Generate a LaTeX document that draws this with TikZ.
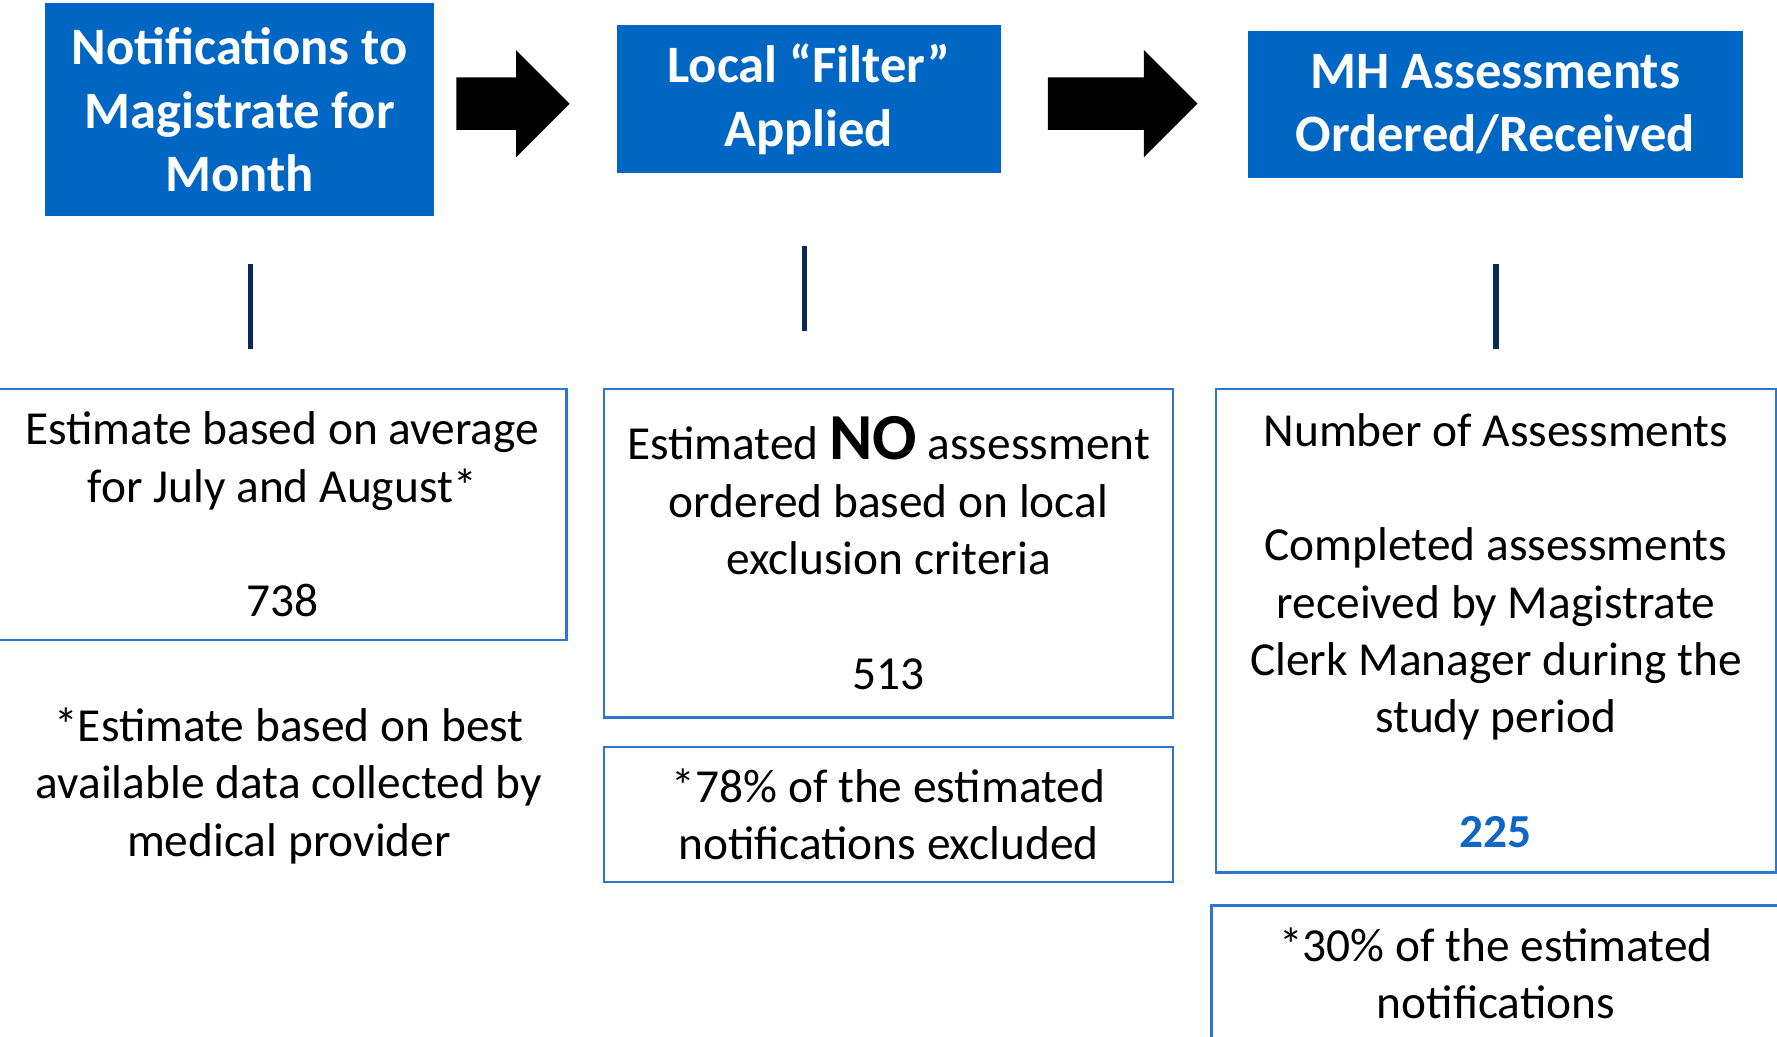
\documentclass[tikz,border=0pt]{standalone}
\usepackage{fontspec}
\setmainfont{Carlito}
\usetikzlibrary{positioning,shapes.arrows}
\definecolor{headblue}{RGB}{0,102,196}
\definecolor{edgeblue}{RGB}{47,117,205}
\definecolor{stemnavy}{RGB}{8,42,84}
\definecolor{numblue}{RGB}{15,102,196}

\begin{document}
\begin{tikzpicture}[
    x=0.1mm, y=-0.1mm,
    head/.style={fill=headblue, text=white, align=center, font=\fontsize{13.2}{15.9}\selectfont\bfseries},
    infobox/.style={draw=edgeblue, line width=0.6pt, minimum width=50.2mm, align=center, font=\fontsize{11.9}{14.4}\selectfont},
    note/.style={align=center, font=\fontsize{11.9}{14.4}\selectfont},
    stem/.style={draw=stemnavy, line width=1.3pt},
    blockarrow/.style={single arrow, fill=black, inner xsep=0pt, inner ysep=2.25mm, single arrow head extend=2.4mm, single arrow tip angle=90}
  ]
    \useasboundingbox (0,0) rectangle (1568,915);
    % top row
    \node[head, minimum width=34.3mm, minimum height=18.8mm] (notif) at (211.5,97) {Notifications to\\Magistrate for\\Month};
    \node[head, minimum width=33.9mm, minimum height=13.1mm] (filter) at (713.5,87.5) {Local “Filter”\\Applied};
    \node[head, minimum width=43.7mm, minimum height=13mm] (mhassess) at (1319.5,92) {MH Assessments\\Ordered/Received};
    \node[blockarrow, minimum height=10mm] (go1) at (441,91.5) {};
    \node[blockarrow, minimum height=13.2mm] (go2) at (979,91.5) {};
    % stems
    \coordinate (s1a) at (221,233);
    \coordinate (s1b) at (221,308);
    \coordinate (s2a) at (710,217);
    \coordinate (s2b) at (710,292);
    \coordinate (s3a) at (1320,233);
    \coordinate (s3b) at (1320,308);
    \draw[stem] (s1a) -- (s1b);
    \draw[stem] (s2a) -- (s2b);
    \draw[stem] (s3a) -- (s3b);
    % lower boxes
    \node[infobox, minimum height=22.2mm] (est) at (249,454) {Estimate based on average\\for July and August*\\[14.4pt]738};
    \node[note] (estnote) at (255,693.5) {*Estimate based on best\\available data collected by\\medical provider};
    \node[infobox, minimum height=29mm] (noorder) at (784,488) {Estimated {\fontsize{16.5}{14.4}\selectfont\bfseries NO} assessment\\ordered based on local\\exclusion criteria\\[14.4pt]513};
    \node[infobox, minimum height=11.9mm, below=2.4mm of noorder] (excl) {*78\% of the estimated\\notifications excluded};
    \node[infobox, minimum width=49.4mm, minimum height=42.7mm] (count) at (1320,556.5) {Number of Assessments\\[14.4pt]Completed assessments\\received by Magistrate\\Clerk Manager during the\\study period\\[14.4pt]{\color{numblue}\bfseries 225}};
    \node[infobox, minimum height=11.9mm, below=2.7mm of count] (share) {*30\% of the estimated\\notifications};
  \end{tikzpicture}
\end{document}
